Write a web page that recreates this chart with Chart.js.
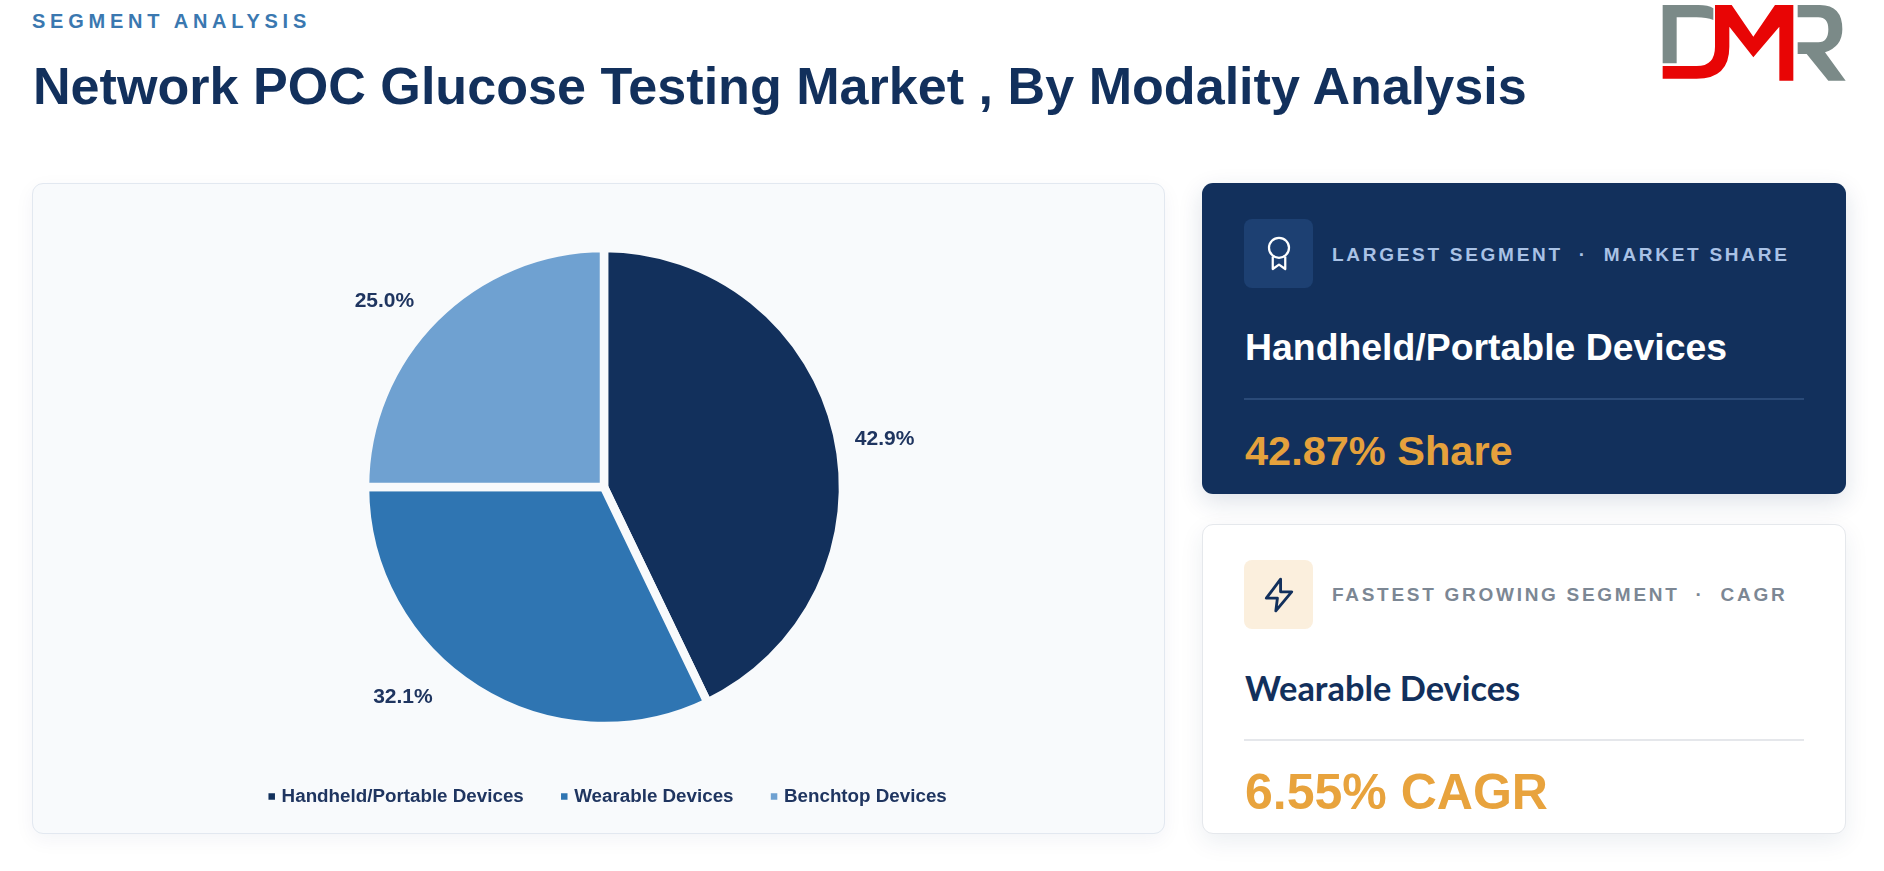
<!DOCTYPE html>
<html>
<head>
<meta charset="utf-8">
<title>Network POC Glucose Testing Market</title>
<script src="https://cdn.jsdelivr.net/npm/chart.js@4"></script>
<style>
  html, body { margin: 0; height: 100%; background: #fff; overflow: hidden; font-family: "Liberation Sans", Arial, sans-serif; }
  .abs { position: absolute; white-space: nowrap; line-height: 1; }
  #eyebrow { left: 32px; top: 11px; font-size: 20px; font-weight: 700; letter-spacing: 4.75px; color: #3a78b0; }
  #title { left: 33px; top: 60px; font-size: 52.1px; font-weight: 700; color: #12305c; }
  #logo { left: 1500px; top: 0; width: 384px; height: 200px; }
  .card { position: absolute; box-sizing: border-box; border-radius: 11px; }
  #pieCard { left: 32px; top: 183px; width: 1133px; height: 651px; background: #f8fafc; border: 1.5px solid #e2e8f0; box-shadow: 0 6px 20px rgba(18,48,92,.05); }
  #chartWrap { position: absolute; left: 64px; top: 200px; width: 1080px; height: 620px; }
  #topCard { left: 1202px; top: 183px; width: 644px; height: 311px; background: #12305c; box-shadow: 0 8px 24px rgba(18,48,92,.14); }
  #bottomCard { left: 1202px; top: 524px; width: 644px; height: 310px; background: #fff; border: 1.5px solid #e5e8ec; box-shadow: 0 8px 24px rgba(18,48,92,.08); }
  .iconBox { position: absolute; left: 1244px; width: 69px; height: 69px; border-radius: 8px; display: flex; align-items: center; justify-content: center; }
  .label { left: 1332px; font-size: 19px; font-weight: 700; letter-spacing: 2.72px; }
  .rule { position: absolute; left: 1244px; width: 560px; height: 2px; }
  .big { left: 1245px; font-weight: 700; }
</style>
</head>
<body>
<div class="abs" id="eyebrow">SEGMENT ANALYSIS</div>
<div class="abs" id="title">Network POC Glucose Testing Market , By Modality Analysis</div>
<svg class="abs" id="logo" viewBox="0 0 1152 600">
  <path fill="#7b8a88" d="M488,15 H595 Q625,15 640,25 V60 Q620,52 590,52 H530 V190 H488 Z"/>
  <path fill="#e80505" d="M645,15 H695 L760,110 L825,15 H880 V242 H838 V80 L760,172 L688,80 V140 Q688,236 590,236 H488 V198 H590 Q645,198 645,140 Z"/>
  <path fill="#7b8a88" d="M893,15 H960 Q1027,15 1027,88 Q1027,140 975,157 L1037,242 H985 L920,162 H893 V127 H955 Q985,127 985,88 Q985,52 955,52 H893 Z"/>
</svg>

<div class="card" id="pieCard"></div>
<div id="chartWrap"><canvas id="shareChart"></canvas></div>

<div class="card" id="topCard"></div>
<div class="iconBox" style="top:219px;background:#1d4072">
  <svg width="30" height="36" viewBox="0 0 24 28" fill="none" stroke="#fff" stroke-width="1.8" stroke-linejoin="round"><circle cx="12" cy="9" r="8"/><path d="M7 16 V26 L12 22.5 L17 26 V16"/></svg>
</div>
<div class="abs label" style="top:245px;color:#a9c2e6">LARGEST SEGMENT &nbsp;·&nbsp; MARKET SHARE</div>
<div class="abs big" style="top:329px;font-size:37.4px;color:#fff">Handheld/Portable Devices</div>
<div class="rule" style="top:398px;background:#2a4a78"></div>
<div class="abs big" style="top:430px;font-size:41.5px;color:#e5a13c">42.87% Share</div>

<div class="card" id="bottomCard"></div>
<div class="iconBox" style="top:560px;background:#fbefdd">
  <svg width="38" height="38" viewBox="0 0 24 24" fill="none" stroke="#12305c" stroke-width="1.8" stroke-linejoin="round" stroke-linecap="round"><path d="M13 2 L4 14 H11 L10 22 L20 10 H13 Z"/></svg>
</div>
<div class="abs label" style="top:585px;color:#7c8794">FASTEST GROWING SEGMENT &nbsp;·&nbsp; CAGR</div>
<div class="abs big" style="top:671px;font-size:34.4px;font-family:Lato,sans-serif;color:#12305c">Wearable Devices</div>
<div class="rule" style="top:739px;background:#e5e7eb"></div>
<div class="abs big" style="top:767px;font-size:50px;color:#e8a33d">6.55% CAGR</div>

<script>
const segments = ["Handheld/Portable Devices", "Wearable Devices", "Benchtop Devices"];
const shares = [42.87, 32.13, 25.0];
const sliceColors = ["#12305c", "#2f75b2", "#6fa1d1"];

// labels sit outside the pie, nudged a bit from the slice middle
const labelRadius = 56;
const labelNudge = [[-7, 18], [-44, -39.5], [-11, 23]];
const legendShift = 5;

const outsideLabels = {
  id: "outsideLabels",
  afterLayout(chart) {
    chart.legend.left += legendShift;
    chart.legend.right += legendShift;
  },
  afterDatasetsDraw(chart) {
    const ctx = chart.ctx;
    ctx.save();
    ctx.font = "700 21px 'Liberation Sans', Arial, sans-serif";
    ctx.fillStyle = "#1f3560";
    ctx.textAlign = "center";
    ctx.textBaseline = "middle";
    chart.getDatasetMeta(0).data.forEach((arc, i) => {
      const mid = (arc.startAngle + arc.endAngle) / 2;
      const r = arc.outerRadius + labelRadius;
      const x = arc.x + Math.cos(mid) * r + labelNudge[i][0];
      const y = arc.y + Math.sin(mid) * r + labelNudge[i][1];
      ctx.fillText(shares[i].toFixed(1) + "%", x, y);
    });
    ctx.restore();
  }
};

new Chart(document.getElementById("shareChart"), {
  type: "pie",
  data: {
    labels: segments,
    datasets: [{
      data: shares,
      backgroundColor: sliceColors,
      borderColor: "#f8fafc",
      borderWidth: 8.5
    }]
  },
  options: {
    responsive: true,
    maintainAspectRatio: false,
    animation: false,
    radius: 239,
    layout: { padding: { top: 27, bottom: 4 } },
    plugins: {
      tooltip: { enabled: false },
      legend: {
        position: "bottom",
        labels: {
          usePointStyle: true,
          pointStyle: "rect",
          boxWidth: 1,
          boxHeight: 6.5,
          padding: 40,
          color: "#1f3560",
          font: { family: "'Liberation Sans', Arial, sans-serif", size: 18.8, weight: "700" },
          // the slice border must not paint over the small legend squares
          generateLabels(chart) {
            return Chart.overrides.pie.plugins.legend.labels.generateLabels(chart)
              .map(item => ({ ...item, lineWidth: 0 }));
          }
        }
      }
    }
  },
  plugins: [outsideLabels]
});
</script>
</body>
</html>
